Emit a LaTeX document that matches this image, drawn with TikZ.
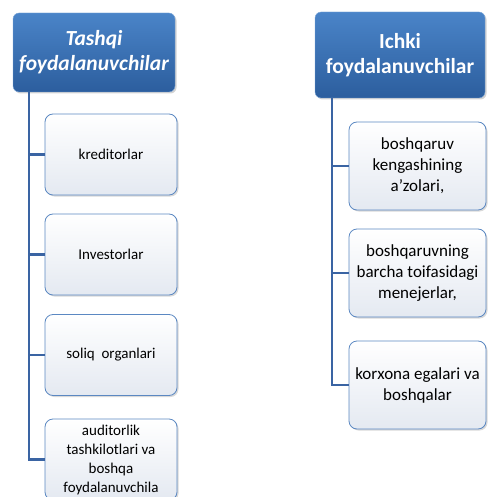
\documentclass[tikz,border=0pt]{standalone}
\usepackage{fontspec}
\setmainfont{Carlito}
\usepackage{tikz}
\usetikzlibrary{shadows}
\usepackage{xcolor}
\definecolor{hdrtop}{RGB}{74,132,200}
\definecolor{hdrbot}{RGB}{44,94,158}
\definecolor{boxbot}{RGB}{228,233,241}
\definecolor{boxline}{RGB}{91,136,194}
\definecolor{treeline}{RGB}{58,100,163}

\begin{document}
\begin{tikzpicture}[x=1pt,y=-1pt]
\tikzset{
    hdr/.style={%
        rectangle,
        rounded corners=6pt,
        top color=hdrtop, bottom color=hdrbot,
        draw=hdrtop!70!white, thin,
        drop shadow={opacity=0.35,shadow xshift=1.5pt,shadow yshift=-1.5pt},
        text=white, align=center,
        font=\bfseries\fontsize{21.5}{25}\selectfont
        },
    leaf/.style={%
        rectangle,
        rounded corners=8pt,
        top color=white, bottom color=boxbot,
        draw=boxline, line width=0.8pt,
        drop shadow={opacity=0.3,shadow xshift=1.5pt,shadow yshift=-1.5pt},
        align=center,
        font=\fontsize{15}{19}\selectfont
        },
    bigleaf/.style={%
        leaf,
        font=\fontsize{17}{21}\selectfont
        },
    branch/.style={%
        draw=treeline, line width=2.4pt
        },
}
\useasboundingbox (0,0) rectangle (487,497);
%%%HEADERS
\node[hdr, minimum width=162pt, minimum height=79pt] (tashqi) at (94,52.5) {\itshape Tashqi\\\itshape foydalanuvchilar};
\node[hdr, minimum width=170pt, minimum height=86pt] (ichki) at (400,55) {Ichki\\foydalanuvchilar};
%%%TASHQI
\node[leaf, minimum width=132pt, minimum height=81pt] (kred) at (111,154.5) {kreditorlar};
\node[leaf, minimum width=132pt, minimum height=81pt] (inv) at (111,254.5) {Investorlar};
\node[leaf, minimum width=132pt, minimum height=81pt] (soliq) at (111,355) {soliq\ \ organlari};
\node[leaf, minimum width=132pt, minimum height=81pt] (audit) at (111,459.5) {auditorlik\\tashkilotlari va\\boshqa\\foydalanuvchila};
%%%ICHKI
\node[bigleaf, minimum width=137pt, minimum height=88pt] (kengash) at (417.5,166) {boshqaruv\\kengashining\\a’zolari,};
\node[bigleaf, minimum width=137pt, minimum height=88pt] (menej) at (417.5,273) {boshqaruvning\\barcha toifasidagi\\menejerlar,};
\node[bigleaf, minimum width=137pt, minimum height=88pt] (egalar) at (417.5,385) {korxona egalari va\\boshqalar};
%%%BRANCHES
\coordinate (lroot) at ([xshift=16pt]tashqi.south west);
\coordinate (rroot) at ([xshift=17pt]ichki.south west);
\foreach \leafname in {kred,inv,soliq,audit}
  \draw[branch] (lroot) |- (\leafname.west);
\foreach \leafname in {kengash,menej,egalar}
  \draw[branch] (rroot) |- (\leafname.west);
\end{tikzpicture}
\end{document}
